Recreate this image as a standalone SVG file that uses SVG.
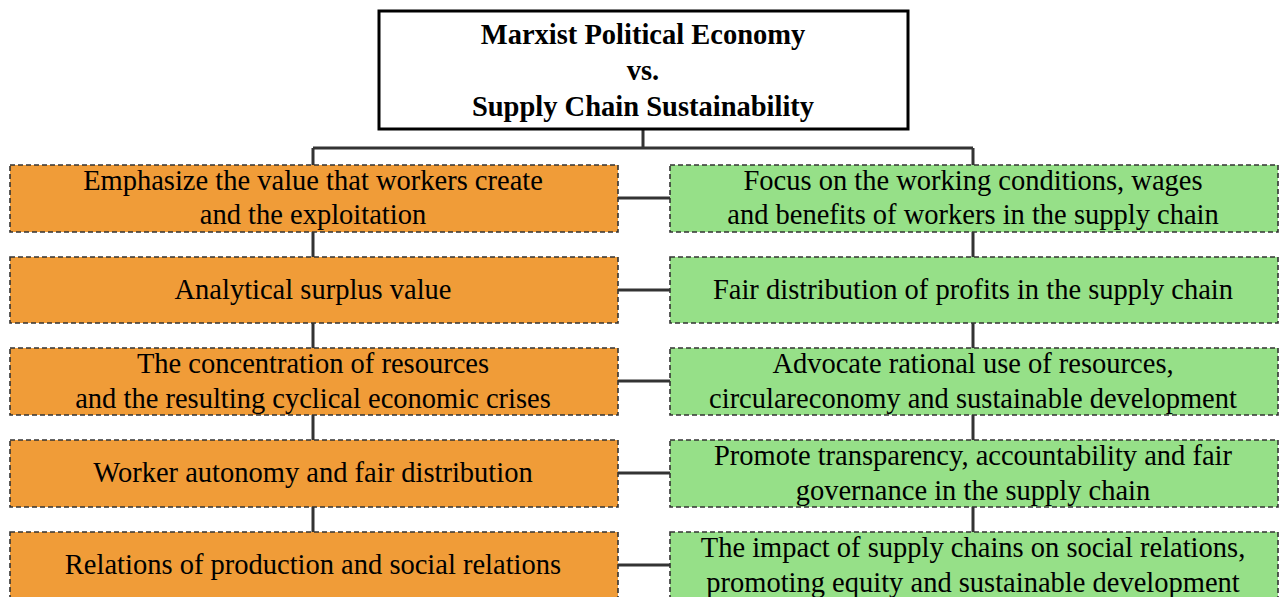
<svg xmlns="http://www.w3.org/2000/svg" width="1280" height="597" viewBox="0 0 1280 597">
  <style>
    .title { fill: #fff; stroke: #000; stroke-width: 3; }
    .left { fill: #F09C38; stroke: #333; stroke-width: 1.6; stroke-dasharray: 5 3; }
    .right { fill: #96E088; stroke: #333; stroke-width: 1.6; stroke-dasharray: 5 3; }
    .conn { stroke: #333; stroke-width: 3; fill: none; }
    .tt { font-family: "Liberation Serif", "Times New Roman", serif; font-weight: bold; font-size: 28.5px; fill: #000; text-anchor: middle; }
    .t { font-family: "Liberation Serif", "Times New Roman", serif; font-size: 28.5px; fill: #000; text-anchor: middle; }
  </style>
  <rect width="1280" height="597" fill="#fff"/>

  <!-- connectors -->
  <g id="connectors">
    <path class="conn" d="M643 129 V148 M313 148 H973 M313 148 V165 M973 148 V165"/>
    <path class="conn" d="M313 232 V257 M313 323 V348 M313 415 V440 M313 507 V532"/>
    <path class="conn" d="M973 232 V257 M973 323 V348 M973 415 V440 M973 507 V532"/>
    <path class="conn" d="M618 198 H670 M618 290 H670 M618 381 H670 M618 473 H670 M618 565 H670"/>
  </g>

  <g id="title">
    <rect class="title" x="379" y="11" width="529" height="118"/>
    <text class="tt" x="643" y="44">Marxist Political Economy</text>
    <text class="tt" x="643" y="80">vs.</text>
    <text class="tt" x="643" y="116">Supply Chain Sustainability</text>
  </g>

  <g id="left-1">
    <rect class="left" x="10" y="165" width="608" height="67"/>
    <text class="t" x="313" y="190">Emphasize the value that workers create</text>
    <text class="t" x="313" y="224">and the exploitation</text>
  </g>
  <g id="left-2">
    <rect class="left" x="10" y="257" width="608" height="66"/>
    <text class="t" x="313" y="299">Analytical surplus value</text>
  </g>
  <g id="left-3">
    <rect class="left" x="10" y="348" width="608" height="67"/>
    <text class="t" x="313" y="373">The concentration of resources</text>
    <text class="t" x="313" y="408">and the resulting cyclical economic crises</text>
  </g>
  <g id="left-4">
    <rect class="left" x="10" y="440" width="608" height="67"/>
    <text class="t" x="313" y="482">Worker autonomy and fair distribution</text>
  </g>
  <g id="left-5">
    <rect class="left" x="10" y="532" width="608" height="70"/>
    <text class="t" x="313" y="574">Relations of production and social relations</text>
  </g>

  <g id="right-1">
    <rect class="right" x="670" y="165" width="608" height="67"/>
    <text class="t" x="973" y="190">Focus on the working conditions, wages</text>
    <text class="t" x="973" y="224">and benefits of workers in the supply chain</text>
  </g>
  <g id="right-2">
    <rect class="right" x="670" y="257" width="608" height="66"/>
    <text class="t" x="973" y="299">Fair distribution of profits in the supply chain</text>
  </g>
  <g id="right-3">
    <rect class="right" x="670" y="348" width="608" height="67"/>
    <text class="t" x="973" y="373">Advocate rational use of resources,</text>
    <text class="t" x="973" y="408">circulareconomy and sustainable development</text>
  </g>
  <g id="right-4">
    <rect class="right" x="670" y="440" width="608" height="67"/>
    <text class="t" x="973" y="465">Promote transparency, accountability and fair</text>
    <text class="t" x="973" y="500">governance in the supply chain</text>
  </g>
  <g id="right-5">
    <rect class="right" x="670" y="532" width="608" height="70"/>
    <text class="t" x="973" y="557">The impact of supply chains on social relations,</text>
    <text class="t" x="973" y="592">promoting equity and sustainable development</text>
  </g>
</svg>
